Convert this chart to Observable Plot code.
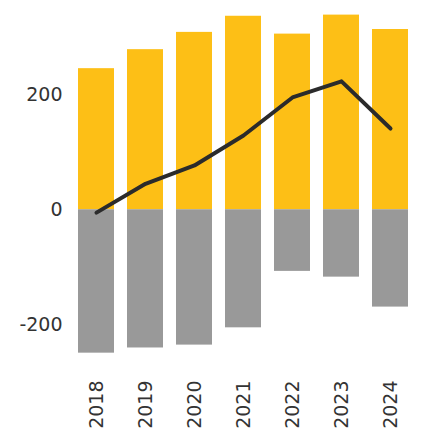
<!DOCTYPE html>
<html>
<head>
<meta charset="utf-8">
<script src="https://cdn.jsdelivr.net/npm/d3@7"></script>
<script src="https://cdn.jsdelivr.net/npm/@observablehq/plot@0.6"></script>
<style>
  body { margin: 0; background: #fff; }
  #chart svg { display: block; }
</style>
</head>
<body>
<div id="chart"></div>
<script>
const years = ["2018", "2019", "2020", "2021", "2022", "2023", "2024"];
const positive = [245, 278, 308, 336, 305, 338, 313];
const negative = [-249, -240, -235, -205, -107, -117, -169];
const net = [-5, 45, 77, 129, 195, 223, 141];
const yTicks = [-200, 0, 200];

const posData = years.map((y, i) => ({year: y, value: positive[i]}));
const negData = years.map((y, i) => ({year: y, value: negative[i]}));
const netData = years.map((y, i) => ({year: y, value: net[i]}));

const chart = Plot.plot({
  width: 422,
  height: 433,
  marginLeft: 70,
  marginRight: 6,
  marginTop: 10,
  marginBottom: 74,
  style: {fontFamily: "DejaVu Sans", fontSize: "19px", color: "#333", background: "#fff"},
  x: {domain: years, paddingInner: 0.265, paddingOuter: 0.163, label: null},
  y: {domain: [-260, 346], label: null},
  marks: [
    Plot.barY(posData, {x: "year", y: "value", fill: "#FDBF16"}),
    Plot.barY(negData, {x: "year", y: "value", fill: "#999999"}),
    Plot.line(netData, {x: "year", y: "value", stroke: "#2b2b2b", strokeWidth: 4}),
    Plot.axisY({ticks: yTicks, tickFormat: d => String(d), tickSize: 0, tickPadding: 8, label: null, fontSize: 19}),
    Plot.axisX({tickSize: 0, tickPadding: 21, tickRotate: -90, label: null, fontSize: 19})
  ]
});
document.getElementById("chart").appendChild(chart);
</script>
</body>
</html>
